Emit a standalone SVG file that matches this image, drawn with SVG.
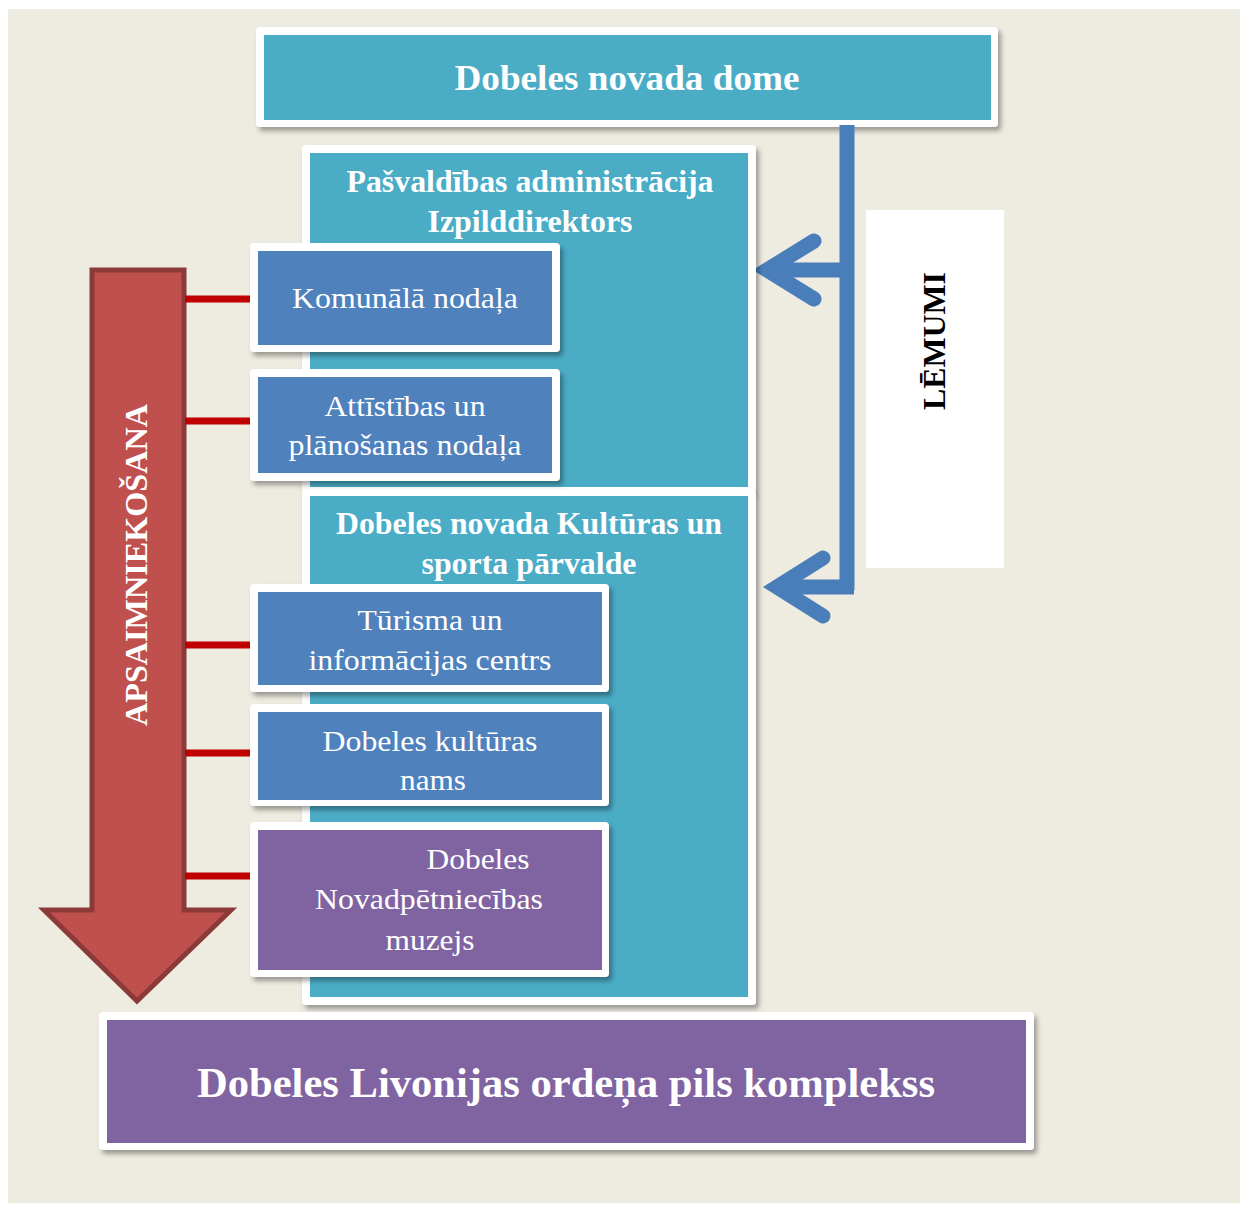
<svg xmlns="http://www.w3.org/2000/svg" width="1240" height="1205" viewBox="0 0 1240 1205">
  <defs>
    <filter id="sh" x="-5%" y="-10%" width="115%" height="130%">
      <feDropShadow dx="3" dy="4" stdDeviation="2.5" flood-color="#000" flood-opacity="0.35"/>
    </filter>
  </defs>
  <style>
    .frame { fill: #ffffff; filter: url(#sh); }
    .teal { fill: #4BACC6; }
    .blue { fill: #4F81BD; }
    .purple { fill: #8064A2; }
    .t { font-family: "Liberation Serif", "Times New Roman", serif; fill: #ffffff; text-anchor: middle; }
    .b { font-weight: bold; }
    .n { font-size: 30px; }
    .h { font-size: 31px; font-weight: bold; }
    .red { stroke: #C00000; stroke-width: 7; fill: none; }
    .bl { stroke: #4A7EBB; stroke-width: 15; fill: none; }
    .chev { stroke: #4A7EBB; stroke-width: 15; fill: none; stroke-linecap: round; stroke-linejoin: miter; stroke-miterlimit: 10; }
  </style>
  <rect x="0" y="0" width="1240" height="1205" fill="#ffffff"/>
  <rect x="8" y="9" width="1232" height="1194" fill="#EEEBE0"/>

  <g id="apsaimniekosana">
    <polygon points="92,270 184,270 184,910 231,910 137,1001 44,910 92,910" fill="#C0504D" stroke="#8C3A38" stroke-width="5"/>
    <text class="t b" font-size="31" transform="translate(147,565) rotate(-90)" textLength="322" lengthAdjust="spacingAndGlyphs">APSAIMNIEKOŠANA</text>
  </g>

  <g id="lemumi">
    <rect x="866" y="210" width="138" height="358" fill="#ffffff"/>
    <text class="b" font-family="Liberation Serif, Times New Roman, serif" font-size="32" fill="#000" text-anchor="middle" transform="translate(945,341) rotate(-90)" textLength="138" lengthAdjust="spacingAndGlyphs">LĒMUMI</text>
  </g>

  <g id="dome">
    <rect class="frame" x="256" y="27" width="742" height="100" rx="4"/>
    <rect class="teal" x="264" y="35" width="727" height="85"/>
    <text class="t b" font-size="36" x="627" y="90" textLength="345" lengthAdjust="spacingAndGlyphs">Dobeles novada dome</text>
  </g>

  <g id="connectors">
    <line class="red" x1="185" y1="299" x2="256" y2="299"/>
    <line class="red" x1="185" y1="421" x2="256" y2="421"/>
    <line class="red" x1="185" y1="645" x2="256" y2="645"/>
    <line class="red" x1="185" y1="753" x2="256" y2="753"/>
    <line class="red" x1="185" y1="876" x2="256" y2="876"/>
    <line class="bl" x1="847" y1="125" x2="847" y2="590"/>
    <line class="bl" x1="847" y1="270" x2="772" y2="270"/>
    <polyline class="chev" points="814,241 767,270 814,299"/>
    <line class="bl" x1="854" y1="587" x2="782" y2="587"/>
    <polyline class="chev" points="823,558 777,587 823,616"/>
  </g>

  <g id="admin">
    <rect class="frame" x="302" y="145" width="454" height="347" rx="4"/>
    <rect class="teal" x="310" y="153" width="438" height="334"/>
    <text class="t h" x="530" y="192" textLength="367" lengthAdjust="spacingAndGlyphs">Pašvaldības administrācija</text>
    <text class="t h" x="530" y="232" textLength="205" lengthAdjust="spacingAndGlyphs">Izpilddirektors</text>
  </g>

  <g id="kultura">
    <rect class="frame" x="302" y="489" width="454" height="516" rx="4"/>
    <rect class="teal" x="310" y="496" width="438" height="501"/>
    <text class="t h" x="529" y="534" textLength="386" lengthAdjust="spacingAndGlyphs">Dobeles novada Kultūras un</text>
    <text class="t h" x="529" y="574" textLength="215" lengthAdjust="spacingAndGlyphs">sporta pārvalde</text>
  </g>

  <g id="komunala">
    <rect class="frame" x="250" y="243" width="310" height="109" rx="4"/>
    <rect class="blue" x="258" y="251" width="294" height="94"/>
    <text class="t n" x="405" y="308" textLength="226" lengthAdjust="spacingAndGlyphs">Komunālā nodaļa</text>
  </g>

  <g id="attistibas">
    <rect class="frame" x="250" y="369" width="310" height="112" rx="4"/>
    <rect class="blue" x="258" y="377" width="294" height="96"/>
    <text class="t n" x="405" y="416" textLength="161" lengthAdjust="spacingAndGlyphs">Attīstības un</text>
    <text class="t n" x="405" y="455" textLength="233" lengthAdjust="spacingAndGlyphs">plānošanas nodaļa</text>
  </g>

  <g id="turisma">
    <rect class="frame" x="250" y="584" width="359" height="108" rx="4"/>
    <rect class="blue" x="258" y="592" width="344" height="93"/>
    <text class="t n" x="430" y="630" textLength="145" lengthAdjust="spacingAndGlyphs">Tūrisma un</text>
    <text class="t n" x="430" y="670" textLength="243" lengthAdjust="spacingAndGlyphs">informācijas centrs</text>
  </g>

  <g id="kulturas-nams">
    <rect class="frame" x="250" y="704" width="359" height="102" rx="4"/>
    <rect class="blue" x="258" y="712" width="344" height="88"/>
    <text class="t n" x="430" y="751" textLength="215" lengthAdjust="spacingAndGlyphs">Dobeles kultūras</text>
    <text class="t n" x="433" y="790" textLength="66" lengthAdjust="spacingAndGlyphs">nams</text>
  </g>

  <g id="muzejs">
    <rect class="frame" x="250" y="822" width="359" height="155" rx="4"/>
    <rect class="purple" x="258" y="830" width="344" height="140"/>
    <text class="t n" x="478" y="869" textLength="103" lengthAdjust="spacingAndGlyphs">Dobeles</text>
    <text class="t n" x="429" y="909" textLength="228" lengthAdjust="spacingAndGlyphs">Novadpētniecības</text>
    <text class="t n" x="430" y="950" textLength="89" lengthAdjust="spacingAndGlyphs">muzejs</text>
  </g>

  <g id="pils">
    <rect class="frame" x="99" y="1012" width="935" height="138" rx="4"/>
    <rect class="purple" x="107" y="1020" width="919" height="123"/>
    <text class="t b" font-size="42" x="566" y="1097" textLength="738" lengthAdjust="spacingAndGlyphs">Dobeles Livonijas ordeņa pils komplekss</text>
  </g>
</svg>
